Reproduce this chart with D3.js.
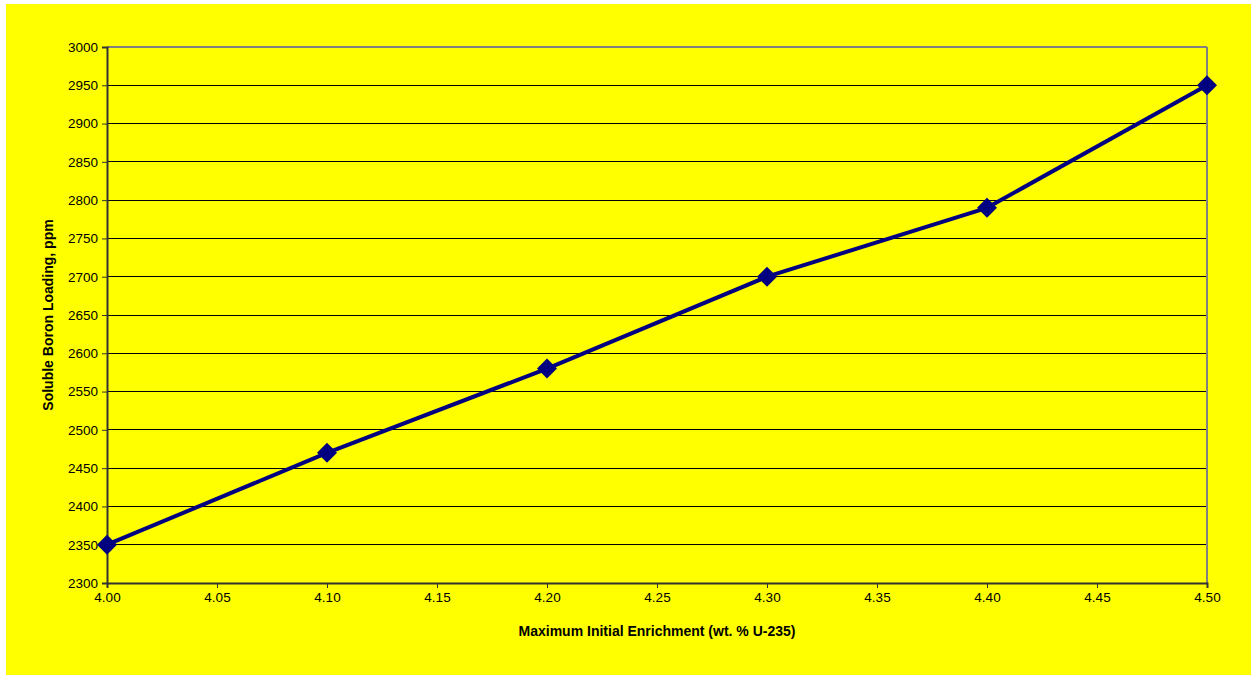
<!DOCTYPE html>
<html><head><meta charset="utf-8">
<script src="https://cdn.jsdelivr.net/npm/d3@7"></script>
<style>body{margin:0;background:#fff}svg{display:block}</style>
</head><body>
<script>
const enrichment = [4.00, 4.10, 4.20, 4.30, 4.40, 4.50];
const boron = [2350, 2470, 2580, 2700, 2790, 2950];
const xTicks = [4.00, 4.05, 4.10, 4.15, 4.20, 4.25, 4.30, 4.35, 4.40, 4.45, 4.50];
const yTicks = [2300, 2350, 2400, 2450, 2500, 2550, 2600, 2650, 2700, 2750, 2800, 2850, 2900, 2950, 3000];

const W = 1251, H = 675;
const svg = d3.select("body").append("svg").attr("width", W).attr("height", H);
svg.append("rect").attr("x", 6).attr("y", 4).attr("width", W - 6).attr("height", H - 4).attr("fill", "#ffff00");

const L = 107, R = 1207, T = 47, B = 583;
const x = d3.scaleLinear().domain([4.0, 4.5]).range([L, R]);
const y = d3.scaleLinear().domain([2300, 3000]).range([B, T]);

svg.append("g").selectAll("line").data(yTicks.filter(v => v > 2300 && v < 3000)).join("line")
  .attr("x1", L).attr("x2", R).attr("y1", d => y(d)).attr("y2", d => y(d))
  .attr("stroke", "#000").attr("stroke-width", 1).attr("shape-rendering", "crispEdges");

svg.append("line").attr("x1", L).attr("x2", R).attr("y1", T).attr("y2", T).attr("stroke", "#808080").attr("stroke-width", 2);
svg.append("line").attr("x1", R).attr("x2", R).attr("y1", T).attr("y2", B).attr("stroke", "#808080").attr("stroke-width", 2);

const font = "'Liberation Sans', Arial, sans-serif";
const yAxis = svg.append("g").attr("transform", `translate(${L},0)`)
  .call(d3.axisLeft(y).tickValues(yTicks).tickSize(5).tickPadding(4).tickFormat(d3.format("d")));
const xAxis = svg.append("g").attr("transform", `translate(0,${B})`)
  .call(d3.axisBottom(x).tickValues(xTicks).tickSize(5).tickPadding(4).tickFormat(d3.format(".2f")));
[yAxis, xAxis].forEach(g => {
  g.select(".domain").attr("stroke", "#333").attr("stroke-width", 2);
  g.selectAll(".tick line").attr("stroke", "#333");
  g.selectAll("text").attr("font-family", font).attr("font-size", 13.5).attr("fill", "#000");
});

const pts = enrichment.map((e, i) => [x(e), y(boron[i])]);
svg.append("path").attr("d", d3.line()(pts)).attr("fill", "none").attr("stroke", "#000080").attr("stroke-width", 4).attr("stroke-linejoin", "round");
svg.append("g").selectAll("path").data(pts).join("path")
  .attr("transform", d => `translate(${d[0]},${d[1]})`)
  .attr("d", "M0,-10L10,0L0,10L-10,0Z").attr("fill", "#000080");

svg.append("text").attr("x", (L + R) / 2).attr("y", 636).attr("text-anchor", "middle")
  .attr("font-family", font).attr("font-size", 14).attr("font-weight", "bold").text("Maximum Initial Enrichment (wt. % U-235)");
svg.append("text").attr("transform", `translate(53,${(T + B) / 2}) rotate(-90)`).attr("text-anchor", "middle")
  .attr("font-family", font).attr("font-size", 14).attr("font-weight", "bold").text("Soluble Boron Loading, ppm");
</script>
</body></html>
